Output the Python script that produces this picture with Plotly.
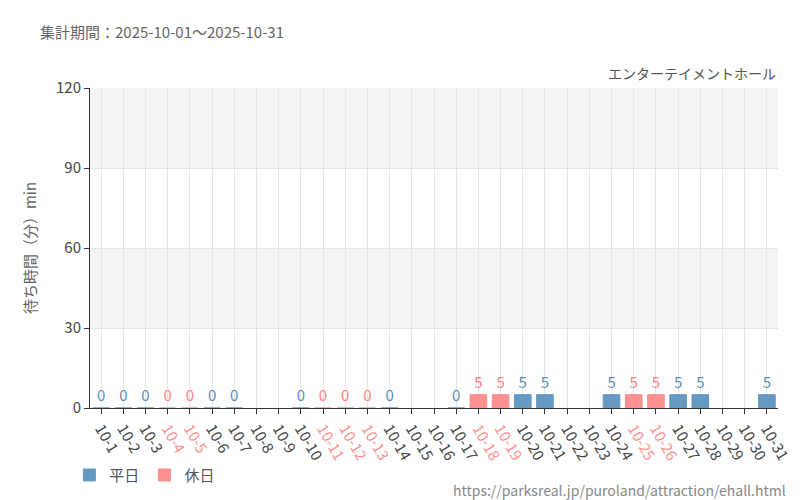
import plotly.graph_objects as go

days = [f"10-{d}" for d in range(1, 32)]
weekday_vals = [0,0,0,None,None,0,0,None,None,0,None,None,None,0,None,None,0,None,None,5,5,None,None,5,None,None,5,5,None,None,5]
holiday_vals = [None,None,None,0,0,None,None,None,None,None,0,0,0,None,None,None,None,5,5,None,None,None,None,None,5,5,None,None,None,None,None]
holidays = {"10-4","10-5","10-11","10-12","10-13","10-18","10-19","10-25","10-26"}

BLUE = "#6699c2"; RED = "#ff9090"
def txt(v): return [("" if x is None else str(x)) for x in v]

fig = go.Figure()
for name, vals, col, tcol in [("平日", weekday_vals, BLUE, "#5b8db8"), ("休日", holiday_vals, RED, "#ff8080")]:
    fig.add_trace(go.Bar(x=days, y=vals, name=name, marker=dict(color=col, line=dict(color=col, width=1)),
                         text=txt(vals), textposition="outside", cliponaxis=False,
                         textfont=dict(color=tcol, size=15, family="Noto Sans CJK JP")))

ticktext = [f"<span style='color:{RED}'>{d}</span>" if d in holidays else d for d in days]
shapes = [dict(type="rect", xref="paper", yref="y", x0=0, x1=1, y0=a, y1=b, fillcolor="#f5f5f5", line_width=0, layer="below")
          for a, b in [(30, 60), (90, 120)]]
fig.update_layout(
    width=800, height=500, barmode="overlay", bargap=0.25,
    plot_bgcolor="white", paper_bgcolor="white",
    font=dict(family="Noto Sans CJK JP", color="#555", size=14),
    margin=dict(l=82, r=30, t=80, b=100, autoexpand=False),
    shapes=shapes,
    xaxis=dict(type="category", tickvals=days, ticktext=ticktext, tickangle=60, showgrid=True, gridcolor="#e6e6e6",
               showline=True, linecolor="#333", ticks="outside", tickcolor="#333", ticklen=5,
               tickfont=dict(size=15, color="#444"), range=[-0.5, 30.5]),
    yaxis=dict(range=[0, 120], tickvals=[0, 30, 60, 90, 120], showgrid=True, gridcolor="#e6e6e6",
               showline=True, linecolor="#333", ticks="outside", tickcolor="#333", ticklen=5,
               title=dict(text="待ち時間（分）min", font=dict(size=15, color="#666")), tickfont=dict(size=15, color="#444"),
               zeroline=False),
    legend=dict(orientation="h", x=-0.03, y=-0.21, xanchor="left", yanchor="middle", font=dict(size=15)),
    annotations=[
        dict(text="集計期間：2025-10-01～2025-10-31", xref="paper", yref="paper", x=-0.076, y=1.215, xanchor="left", yanchor="top",
             showarrow=False, font=dict(size=15, color="#666")),
        dict(text="エンターテイメントホール", xref="paper", yref="paper", x=1, y=1.01, xanchor="right", yanchor="bottom",
             showarrow=False, font=dict(size=14, color="#555")),
        dict(text="https://parksreal.jp/puroland/attraction/ehall.html", xref="paper", yref="paper", x=1.0145, y=-0.256,
             xanchor="right", yanchor="middle", showarrow=False, font=dict(size=14, color="#888")),
    ],
)
fig.write_html("out.html")
